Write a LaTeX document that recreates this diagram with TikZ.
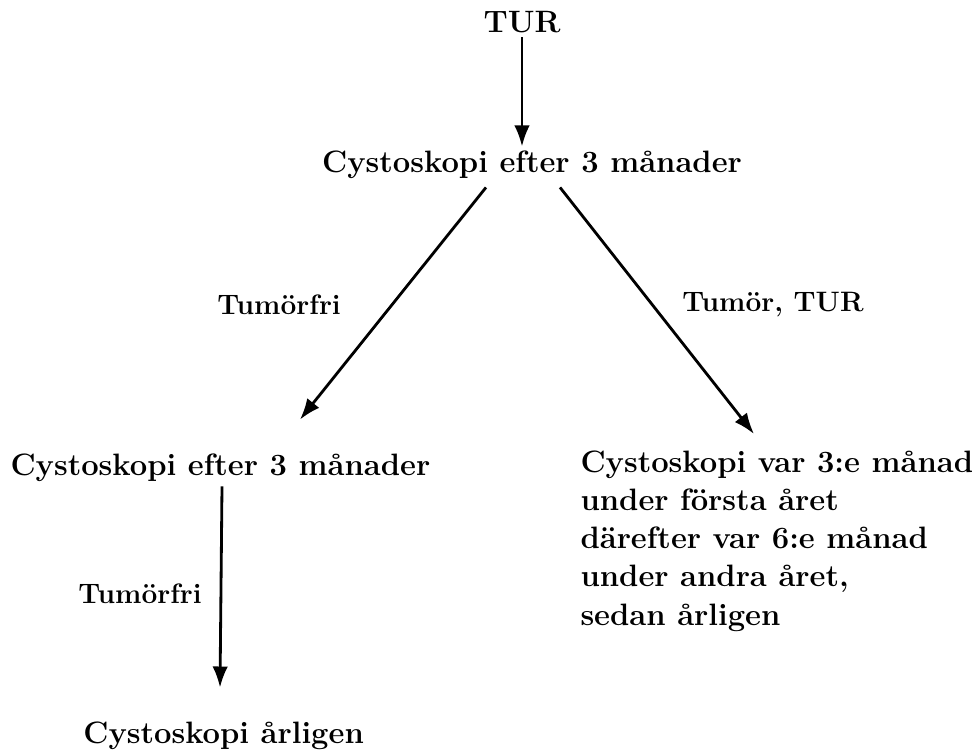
\documentclass[tikz,border=0pt]{standalone}
\usepackage{tikz}
\usetikzlibrary{positioning,arrows.meta,calc}
\tikzset{
    txt/.style = {
        font=\fontsize{22}{27.2}\selectfont\bfseries,
        inner sep=3pt
    },
    lbl/.style = {
        font=\fontsize{20}{24}\selectfont\bfseries,
        inner sep=0pt
    },
    flow/.style = {
        draw,
        line width=2pt
    },
    >={Latex[length=15pt,width=11pt]},
}
\begin{document}
\begin{tikzpicture}

            \useasboundingbox (0,0) rectangle (24.375,-18.775);

            \node[txt] (tur) at (13.05,-0.55) {TUR};
            \node[txt] (cyst_first) at (13.3,-4.125) {Cystoskopi efter 3 månader};

            \node[txt] (cyst_left) at (5.51,-11.7) {Cystoskopi efter 3 månader};
            \node[txt, anchor=north west, align=left] (cyst_right) at (14.4,-11.15)
                {Cystoskopi var 3:e månad\\under första året\\därefter var 6:e månad\\under andra året,\\sedan årligen};

            \node[txt] (cyst_yearly) at (5.59,-18.4) {Cystoskopi årligen};

            \node[lbl] (free_first) at (6.975,-7.625) {Tumörfri};
            \node[lbl, anchor=west] (tumour) at (17.05,-7.625) {Tumör, TUR};
            \node[lbl] (free_second) at (3.5,-14.85) {Tumörfri};


            \path[flow, ->] (tur.south) -- (tur.south |- cyst_first.north);

            \path[flow, ->] ($(cyst_first.south)+(-1.15,-0.1)$) -- ($(cyst_left.north)+(1.99,0.75)$);
            \path[flow, ->] ($(cyst_first.south)+(0.7,-0.1)$) -- ($(cyst_right.north west)+(4.45,0.3)$);

            \path[flow, ->] ($(cyst_left.south)+(0.04,0)$) -- ($(cyst_yearly.north)+(-0.09,0.75)$);

        \end{tikzpicture}
\end{document}
